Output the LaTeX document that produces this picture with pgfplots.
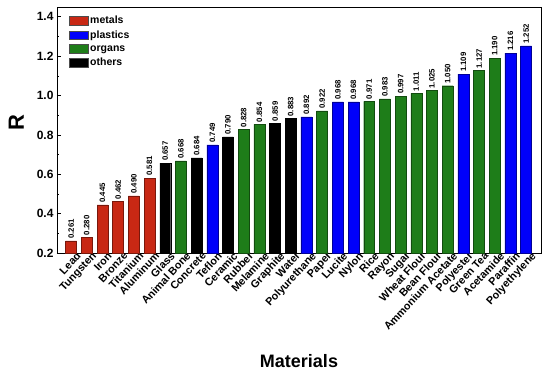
\documentclass[border=0pt]{standalone}
\usepackage{pgfplots}
\pgfplotsset{compat=1.18}
\usepackage{pgfplotstable}
\usepackage{fontspec}
\setmainfont{Liberation Sans}
\definecolor{cmetal}{RGB}{200,40,20}
\definecolor{cplastic}{RGB}{0,0,250}
\definecolor{corgan}{RGB}{30,125,25}
\definecolor{cother}{RGB}{0,0,0}
\pgfplotstableread{
x y
0 0.261
1 0.280
2 0.445
3 0.462
4 0.490
5 0.581
}\metals
\pgfplotstableread{
x y
9 0.749
15 0.892
17 0.968
18 0.968
25 1.109
28 1.216
29 1.252
}\plastics
\pgfplotstableread{
x y
7 0.668
11 0.828
12 0.854
16 0.922
19 0.971
20 0.983
21 0.997
22 1.011
23 1.025
24 1.050
26 1.127
27 1.190
}\organs
\pgfplotstableread{
x y
6 0.657
8 0.684
10 0.790
13 0.859
14 0.883
}\others
\begin{document}
\begin{tikzpicture}
\useasboundingbox (-57pt,-120pt) rectangle (493pt,253pt);
\begin{axis}[
  at={(0,0)}, anchor=south west,
  scale only axis, width=484pt, height=246pt,
  ybar, bar width=0.7,
  xmin=-0.9, xmax=29.95,
  ymin=0.2, ymax=1.45,
  ytick={0.2,0.4,...,1.4},
  minor y tick num=1,
  xtick={0,...,29},
  xticklabels={Lead,Tungsten,Iron,Bronze,Titanium,Aluminum,Glass,Animal Bone,Concrete,Teflon,Ceramic,Rubber,Melamine,Graphite,Water,Polyurethane,Paper,Lucite,Nylon,Rice,Rayon,Sugar,Wheat Flour,Bean Flour,Ammonium Acetate,Polyester,Green Tea,Acetamide,Paraffin,Polyethylene},
  xtick pos=bottom, ytick pos=left,
  tick align=inside,
  major tick length=4pt, minor tick length=2.5pt,
  axis line style={line width=0.9pt},
  tick style={line width=0.7pt, black},
  /pgf/number format/assume math mode=true,
  yticklabel style={font=\bfseries\fontsize{12}{14}\selectfont, /pgf/number format/fixed, /pgf/number format/precision=1, /pgf/number format/fixed zerofill},
  xticklabel style={font=\bfseries\fontsize{10.8}{12}\selectfont, rotate=47, anchor=north east, inner sep=0.5pt, xshift=5pt, yshift=-1.5pt},
  ylabel={\bfseries R},
  ylabel style={font=\fontsize{22}{24}\selectfont, at={(axis description cs:-0.084,0.53)}, anchor=center},
  xlabel={\bfseries Materials},
  xlabel style={font=\fontsize{18}{20}\selectfont, at={(axis description cs:0.5,-0.467)}, anchor=base},
  nodes near coords,
  nodes near coords style={font=\bfseries\fontsize{7.8}{9}\selectfont, rotate=90, anchor=west, inner sep=2pt, /pgf/number format/fixed, /pgf/number format/precision=3, /pgf/number format/fixed zerofill},
  legend style={draw=none, fill=none, at={(0.022,0.975)}, anchor=north west, font=\bfseries\fontsize{10.5}{12}\selectfont, row sep=1.5pt, inner sep=1pt},
  legend cell align=left,
  legend image code/.code={\draw[#1, draw=black!70] (0pt,-4pt) rectangle (19pt,4.5pt);},
]
\addplot[bar shift=0pt, fill=cmetal, draw=cmetal!60!black] table[x=x,y=y] {\metals};
\addplot[bar shift=0pt, fill=cplastic, draw=cplastic!60!black] table[x=x,y=y] {\plastics};
\addplot[bar shift=0pt, fill=corgan, draw=corgan!60!black] table[x=x,y=y] {\organs};
\addplot[bar shift=0pt, fill=cother, draw=black] table[x=x,y=y] {\others};
\legend{metals,plastics,organs,others}
\end{axis}
\end{tikzpicture}
\end{document}
